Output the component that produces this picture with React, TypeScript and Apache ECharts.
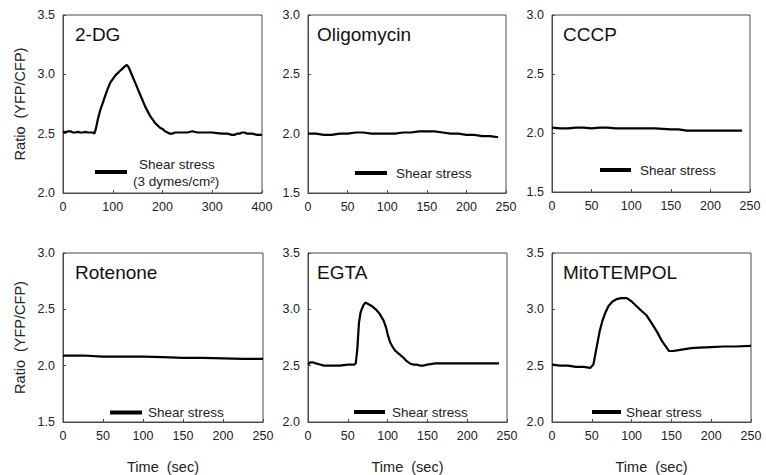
import React, { useEffect, useRef } from "react";
import * as echarts from "echarts";

const panelTitles = ["2-DG", "Oligomycin", "CCCP", "Rotenone", "EGTA", "MitoTEMPOL"];
const yAxisName = "Ratio  (YFP/CFP)";
const xAxisName = "Time  (sec)";
const legendLabel = "Shear stress";
const legendUnit = "(3 dymes/cm²)";

const xMax = [400, 250, 250, 250, 250, 250];
const xInterval = [100, 50, 50, 50, 50, 50];
const yMin = [2.0, 1.5, 1.5, 1.5, 2.0, 2.0];
const yMax = [3.5, 3.0, 3.0, 3.0, 3.5, 3.5];

const dg2: number[][] = [
  [0, 2.52], [5, 2.51], [10, 2.52], [15, 2.52], [20, 2.51], [25, 2.51], [30, 2.515], [35, 2.51],
  [40, 2.51], [45, 2.515], [50, 2.51], [55, 2.51], [60, 2.51], [63, 2.50], [66, 2.54], [70, 2.62],
  [75, 2.70], [80, 2.76], [85, 2.82], [90, 2.88], [95, 2.93], [100, 2.96], [105, 2.99], [110, 3.01],
  [115, 3.03], [120, 3.05], [125, 3.07], [128, 3.08], [132, 3.06], [136, 3.02], [140, 2.98],
  [145, 2.93], [150, 2.88], [155, 2.83], [160, 2.78], [165, 2.73], [170, 2.69], [175, 2.65],
  [180, 2.62], [185, 2.59], [190, 2.57], [195, 2.55], [200, 2.54], [205, 2.52], [210, 2.51],
  [215, 2.50], [220, 2.50], [225, 2.51], [230, 2.51], [240, 2.51], [250, 2.51], [260, 2.52],
  [270, 2.51], [280, 2.51], [290, 2.51], [300, 2.51], [310, 2.505], [320, 2.50], [330, 2.50],
  [340, 2.49], [345, 2.49], [350, 2.50], [355, 2.50], [360, 2.51], [365, 2.51], [370, 2.50],
  [380, 2.50], [390, 2.49], [400, 2.49],
];
const oligomycin: number[][] = [
  [0, 2.0], [10, 2.0], [20, 1.99], [30, 1.99], [40, 2.0], [50, 2.0], [60, 2.01], [70, 2.01],
  [80, 2.0], [90, 2.0], [100, 2.0], [110, 2.0], [120, 2.01], [130, 2.01], [140, 2.02], [150, 2.02],
  [160, 2.02], [170, 2.01], [180, 2.0], [190, 2.0], [200, 1.99], [210, 1.99], [220, 1.98],
  [230, 1.98], [240, 1.97],
];
const cccp: number[][] = [
  [0, 2.045], [10, 2.04], [20, 2.04], [30, 2.045], [40, 2.045], [50, 2.04], [60, 2.045],
  [70, 2.045], [80, 2.04], [90, 2.04], [100, 2.04], [110, 2.04], [120, 2.04], [130, 2.04],
  [140, 2.035], [150, 2.03], [160, 2.03], [170, 2.02], [180, 2.02], [190, 2.02], [200, 2.02],
  [210, 2.02], [220, 2.02], [230, 2.02], [240, 2.02],
];
const rotenone: number[][] = [
  [0, 2.09], [25, 2.09], [50, 2.08], [75, 2.08], [100, 2.08], [125, 2.075], [150, 2.07],
  [175, 2.07], [200, 2.065], [225, 2.06], [250, 2.06],
];
const egta: number[][] = [
  [0, 2.51], [3, 2.53], [6, 2.53], [10, 2.52], [15, 2.51], [20, 2.50], [25, 2.50], [30, 2.50],
  [40, 2.50], [50, 2.51], [58, 2.51], [60, 2.52], [62, 2.65], [64, 2.88], [66, 2.97], [68, 3.01],
  [70, 3.04], [72, 3.06], [75, 3.05], [80, 3.03], [85, 3.00], [90, 2.96], [95, 2.90], [98, 2.84],
  [100, 2.78], [103, 2.71], [106, 2.67], [110, 2.63], [115, 2.60], [120, 2.57], [124, 2.54],
  [128, 2.52], [132, 2.51], [136, 2.51], [141, 2.50], [145, 2.50], [150, 2.51], [160, 2.52],
  [170, 2.52], [180, 2.52], [190, 2.52], [200, 2.52], [210, 2.52], [220, 2.52], [230, 2.52],
  [240, 2.52],
];
const mitotempol: number[][] = [
  [0, 2.51], [10, 2.50], [20, 2.50], [30, 2.49], [40, 2.49], [48, 2.48], [52, 2.51], [56, 2.66],
  [60, 2.81], [63, 2.89], [67, 2.97], [71, 3.03], [76, 3.07], [81, 3.09], [87, 3.10], [94, 3.10],
  [100, 3.07], [106, 3.03], [112, 2.99], [119, 2.945], [125, 2.88], [132, 2.80], [138, 2.72],
  [142, 2.68], [147, 2.63], [152, 2.63], [157, 2.635], [165, 2.645], [175, 2.655], [185, 2.66],
  [200, 2.665], [215, 2.67], [230, 2.67], [250, 2.675],
];
const seriesData = [dg2, oligomycin, cccp, rotenone, egta, mitotempol];

const FONT = "'Liberation Sans', Arial, sans-serif";

export default function App() {
  const ref = useRef<HTMLDivElement>(null);
  useEffect(() => {
    document.body.style.margin = "0";
    if (!ref.current) return;
    const chart = echarts.init(ref.current, null, { renderer: "svg" });

    const gridPos = [
      { left: 63, top: 15, width: 199, height: 178 },
      { left: 308, top: 15, width: 198, height: 178 },
      { left: 552, top: 15, width: 198, height: 177 },
      { left: 63, top: 253, width: 200, height: 177 },
      { left: 308, top: 253, width: 199, height: 177 },
      { left: 552, top: 253, width: 199, height: 177 },
    ];
    const titlePos = [
      [75, 34], [317, 34], [563, 34], [75, 272], [317, 272], [563, 272],
    ];
    const legendPos = [
      { x1: 95, x2: 127, y: 172, tx: 139, ty: 164 },
      { x1: 355, x2: 387, y: 173, tx: 396, ty: 173 },
      { x1: 600, x2: 631, y: 170, tx: 640, ty: 170 },
      { x1: 110, x2: 142, y: 412.5, tx: 148, ty: 412.5 },
      { x1: 354, x2: 385, y: 412, tx: 392, ty: 412 },
      { x1: 592, x2: 621, y: 412, tx: 626, ty: 412 },
    ];

    const axisColor = "#4a4a4a";
    const labelStyle = { color: "#222", fontSize: 12.5, fontFamily: FONT };

    const graphic: any[] = [];
    panelTitles.forEach((t, i) => {
      graphic.push({
        type: "text",
        x: titlePos[i][0],
        y: titlePos[i][1],
        style: { text: t, fontSize: 19, fontFamily: FONT, fill: "#111", verticalAlign: "middle" },
      });
      const lp = legendPos[i];
      graphic.push({
        type: "line",
        shape: { x1: lp.x1, y1: lp.y, x2: lp.x2, y2: lp.y },
        style: { stroke: "#000", lineWidth: 4 },
      });
      graphic.push({
        type: "text",
        x: lp.tx,
        y: lp.ty,
        style: { text: legendLabel, fontSize: 13.5, fontFamily: FONT, fill: "#222", verticalAlign: "middle" },
      });
    });
    graphic.push({
      type: "text",
      x: 133,
      y: 181,
      style: { text: legendUnit, fontSize: 13.5, fontFamily: FONT, fill: "#222", verticalAlign: "middle" },
    });

    const option: any = {
      animation: false,
      backgroundColor: "#fff",
      grid: gridPos.map((g) => ({ ...g, show: true, borderColor: axisColor, borderWidth: 1, backgroundColor: "transparent" })),
      xAxis: seriesData.map((_, i) => ({
        type: "value",
        gridIndex: i,
        min: 0,
        max: xMax[i],
        interval: xInterval[i],
        axisLine: { show: true, lineStyle: { color: axisColor } },
        axisTick: { show: true, inside: true, length: 3, lineStyle: { color: axisColor } },
        axisLabel: { ...labelStyle, margin: 7, showMinLabel: true, showMaxLabel: true, hideOverlap: false },
        splitLine: { show: false },
        name: i >= 3 ? xAxisName : "",
        nameLocation: "middle",
        nameGap: 37,
        nameTextStyle: { color: "#222", fontSize: 14.5, fontFamily: FONT },
      })),
      yAxis: seriesData.map((_, i) => ({
        type: "value",
        gridIndex: i,
        min: yMin[i],
        max: yMax[i],
        interval: 0.5,
        axisLine: { show: true, lineStyle: { color: axisColor } },
        axisTick: { show: true, inside: true, length: 3, lineStyle: { color: axisColor } },
        axisLabel: { ...labelStyle, margin: 8, formatter: (v: number) => v.toFixed(1), showMinLabel: true, showMaxLabel: true },
        splitLine: { show: false },
        name: i === 0 || i === 3 ? yAxisName : "",
        nameLocation: "middle",
        nameGap: 36,
        nameTextStyle: { color: "#222", fontSize: 14.5, fontFamily: FONT },
      })),
      series: seriesData.map((d, i) => ({
        type: "line",
        xAxisIndex: i,
        yAxisIndex: i,
        data: d,
        showSymbol: false,
        symbol: "none",
        smooth: false,
        lineStyle: { color: "#000", width: 2.2 },
        silent: true,
      })),
      graphic,
    };
    chart.setOption(option);
    return () => chart.dispose();
  }, []);
  return <div ref={ref} style={{ width: 766, height: 475 }} />;
}
